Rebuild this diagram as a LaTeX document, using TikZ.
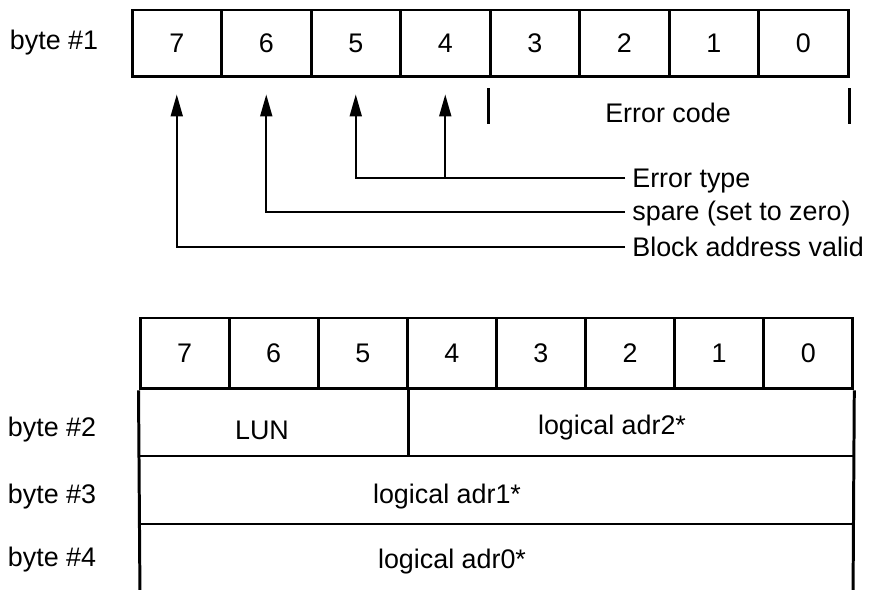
\documentclass[tikz,border=0pt]{standalone}
\usepackage{fontspec}
\setmainfont{Liberation Sans}
\usetikzlibrary{arrows.meta}

\begin{document}
\begin{tikzpicture}[x=0.02cm, y=-0.02cm,
  txt/.style={inner sep=0pt, font=\fontsize{15.3}{18}\selectfont},
  cell/.style={txt, draw, line width=1.7pt, minimum height=1.34cm},
  frame/.style={line width=1.7pt},
  lead/.style={line width=1.1pt},
  tip/.style={-{Triangle[length=0.44cm,width=0.24cm]}, shorten >=0.32cm}]
\useasboundingbox (0,0) rectangle (871,590);
\node[txt] (byteA) at (54,43) {byte \#1};
\foreach \b [count=\i] in {7,...,0}
  \node[cell, minimum width=1.79cm] (t\b) at ({132+89.5*(\i-0.5)},43.5) {\b};
\draw[frame] ([yshift=-0.2cm]t3.south west) -- ([yshift=-0.92cm]t3.south west);
\draw[frame] ([yshift=-0.2cm]t0.south east) -- ([yshift=-0.92cm]t0.south east);
\node[txt] (ecode) at (668,113) {Error code};
\coordinate (etype) at (625,178);
\coordinate (spare) at (625,212);
\coordinate (valid) at (625,247);
\node[txt, anchor=west] (etypeL) at (632,181) {Error type};
\node[txt, anchor=west] (spareL) at (632,214) {spare (set to zero)};
\node[txt, anchor=west] (validL) at (632,247) {Block address valid};
\draw[lead, tip] (etype) -| (t4.south);
\draw[lead, tip] (etype) -| (t5.south);
\draw[lead, tip] (spare) -| (t6.south);
\draw[lead, tip] (valid) -| (t7.south);
\foreach \b [count=\i] in {7,...,0}
  \node[cell, minimum width=1.782cm, minimum height=1.42cm] (u\b) at ({140+89.1*(\i-0.5)},353.5) {\b};
\draw[frame] (u7.south west) -- (140,600) (u0.south east) -- (853,600);
\draw[frame] (140,456) -- (853,456) (140,524) -- (853,524);
\draw[frame] (u5.south east) -- (u5.south east |- 0,456);
\node[txt] (byteB) at (52,430) {byte \#2};
\node[txt] (byteC) at (52,497) {byte \#3};
\node[txt] (byteD) at (52,560) {byte \#4};
\node[txt] (lun) at (262,430) {LUN};
\node[txt] (adrB) at (612,428) {logical adr2*};
\node[txt] (adrA) at (447,497) {logical adr1*};
\node[txt] (adrO) at (452,562) {logical adr0*};
\end{tikzpicture}
\end{document}
